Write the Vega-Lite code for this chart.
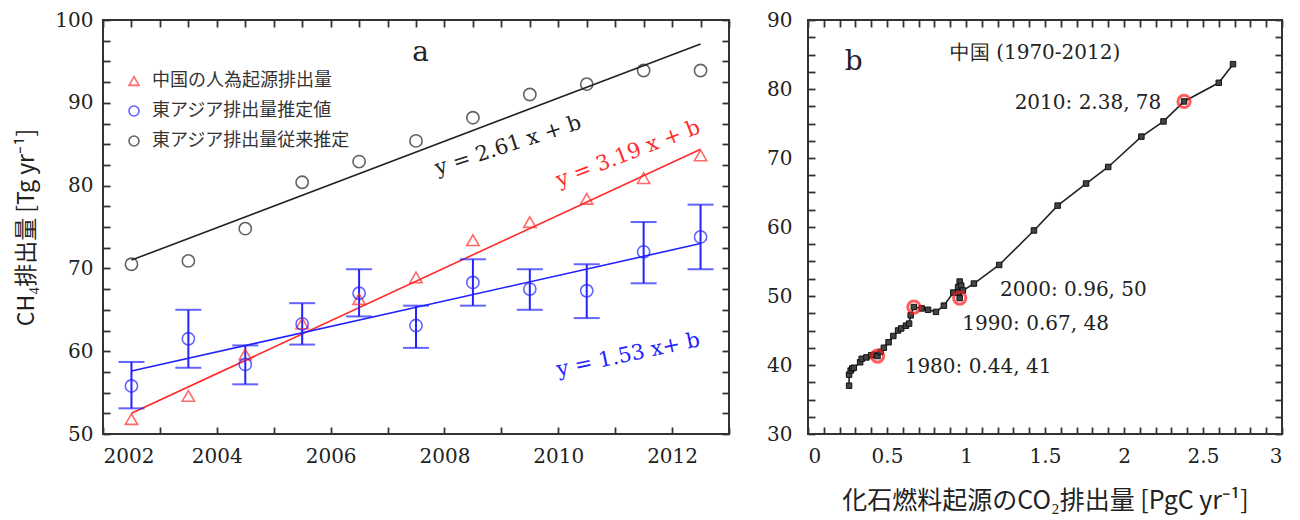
{
  "$schema": "https://vega.github.io/schema/vega-lite/v6.json",
  "background": "white",
  "padding": {"left": 14, "top": 9, "right": 10, "bottom": 10},
  "bounds": "flush",
  "spacing": 79,
  "config": {
    "view": {"stroke": "#333", "strokeWidth": 2},
    "axis": {"domain": false, "grid": false, "labelFont": "DejaVu Serif", "labelFontSize": 20, "labelColor": "#222", "titleFont": "Noto Sans CJK JP", "titleFontSize": 23, "titleFontWeight": "normal", "titleColor": "#222"},
    "legend": {"labelFont": "Noto Sans CJK JP", "labelFontSize": 18, "labelColor": "#333", "labelLimit": 400, "rowPadding": 12, "padding": 0, "labelOffset": 9, "symbolStrokeWidth": 1.6}
  },
  "datasets": {
    "a_obs": [
      {"year": 2002.5, "series": "中国の人為起源排出量", "value": 51.8},
      {"year": 2003.5, "series": "中国の人為起源排出量", "value": 54.6},
      {"year": 2004.5, "series": "中国の人為起源排出量", "value": 59.6},
      {"year": 2005.5, "series": "中国の人為起源排出量", "value": 63.35},
      {"year": 2006.5, "series": "中国の人為起源排出量", "value": 66.3},
      {"year": 2007.5, "series": "中国の人為起源排出量", "value": 68.9},
      {"year": 2008.5, "series": "中国の人為起源排出量", "value": 73.4},
      {"year": 2009.5, "series": "中国の人為起源排出量", "value": 75.6},
      {"year": 2010.5, "series": "中国の人為起源排出量", "value": 78.4},
      {"year": 2011.5, "series": "中国の人為起源排出量", "value": 80.9},
      {"year": 2012.5, "series": "中国の人為起源排出量", "value": 83.65},
      {"year": 2002.5, "series": "東アジア排出量推定値", "value": 55.8, "lo": 53.1, "hi": 58.7},
      {"year": 2003.5, "series": "東アジア排出量推定値", "value": 61.5, "lo": 58.0, "hi": 65.0},
      {"year": 2004.5, "series": "東アジア排出量推定値", "value": 58.4, "lo": 56.0, "hi": 60.7},
      {"year": 2005.5, "series": "東アジア排出量推定値", "value": 63.3, "lo": 60.8, "hi": 65.8},
      {"year": 2006.5, "series": "東アジア排出量推定値", "value": 67.0, "lo": 64.2, "hi": 69.9},
      {"year": 2007.5, "series": "東アジア排出量推定値", "value": 63.1, "lo": 60.4, "hi": 65.5},
      {"year": 2008.5, "series": "東アジア排出量推定値", "value": 68.3, "lo": 65.5, "hi": 71.1},
      {"year": 2009.5, "series": "東アジア排出量推定値", "value": 67.5, "lo": 65.0, "hi": 69.9},
      {"year": 2010.5, "series": "東アジア排出量推定値", "value": 67.3, "lo": 64.0, "hi": 70.5},
      {"year": 2011.5, "series": "東アジア排出量推定値", "value": 72.0, "lo": 68.2, "hi": 75.6},
      {"year": 2012.5, "series": "東アジア排出量推定値", "value": 73.8, "lo": 69.9, "hi": 77.7},
      {"year": 2002.5, "series": "東アジア排出量従来推定", "value": 70.5},
      {"year": 2003.5, "series": "東アジア排出量従来推定", "value": 70.9},
      {"year": 2004.5, "series": "東アジア排出量従来推定", "value": 74.8},
      {"year": 2005.5, "series": "東アジア排出量従来推定", "value": 80.4},
      {"year": 2006.5, "series": "東アジア排出量従来推定", "value": 82.9},
      {"year": 2007.5, "series": "東アジア排出量従来推定", "value": 85.4},
      {"year": 2008.5, "series": "東アジア排出量従来推定", "value": 88.2},
      {"year": 2009.5, "series": "東アジア排出量従来推定", "value": 91.0},
      {"year": 2010.5, "series": "東アジア排出量従来推定", "value": 92.25},
      {"year": 2011.5, "series": "東アジア排出量従来推定", "value": 93.9},
      {"year": 2012.5, "series": "東アジア排出量従来推定", "value": 93.9}
    ],
    "a_fit": [
      {"series": "black", "year": 2002.5, "value": 71.0},
      {"series": "black", "year": 2012.5, "value": 97.1},
      {"series": "red", "year": 2002.5, "value": 52.5},
      {"series": "red", "year": 2012.5, "value": 84.4},
      {"series": "blue", "year": 2002.5, "value": 57.6},
      {"series": "blue", "year": 2012.5, "value": 73.0}
    ],
    "b": [
      {"year": 1970, "co2": 0.26, "ch4": 37.0},
      {"year": 1971, "co2": 0.26, "ch4": 38.6},
      {"year": 1972, "co2": 0.27, "ch4": 39.2},
      {"year": 1973, "co2": 0.28, "ch4": 39.5},
      {"year": 1974, "co2": 0.29, "ch4": 39.6},
      {"year": 1975, "co2": 0.33, "ch4": 40.4},
      {"year": 1976, "co2": 0.34, "ch4": 40.9},
      {"year": 1977, "co2": 0.37, "ch4": 41.1},
      {"year": 1978, "co2": 0.40, "ch4": 41.4},
      {"year": 1979, "co2": 0.42, "ch4": 41.5},
      {"year": 1980, "co2": 0.44, "ch4": 41.3},
      {"year": 1981, "co2": 0.46, "ch4": 41.9},
      {"year": 1982, "co2": 0.48, "ch4": 42.5},
      {"year": 1983, "co2": 0.51, "ch4": 43.3},
      {"year": 1984, "co2": 0.54, "ch4": 44.2},
      {"year": 1985, "co2": 0.57, "ch4": 45.0},
      {"year": 1986, "co2": 0.59, "ch4": 45.3},
      {"year": 1987, "co2": 0.62, "ch4": 45.7},
      {"year": 1988, "co2": 0.64, "ch4": 46.0},
      {"year": 1989, "co2": 0.65, "ch4": 47.2},
      {"year": 1990, "co2": 0.67, "ch4": 48.4},
      {"year": 1991, "co2": 0.72, "ch4": 48.2},
      {"year": 1992, "co2": 0.76, "ch4": 48.0},
      {"year": 1993, "co2": 0.81, "ch4": 47.7},
      {"year": 1994, "co2": 0.86, "ch4": 48.6},
      {"year": 1995, "co2": 0.92, "ch4": 50.5},
      {"year": 1996, "co2": 0.95, "ch4": 51.3},
      {"year": 1997, "co2": 0.96, "ch4": 52.1},
      {"year": 1998, "co2": 0.97, "ch4": 51.5},
      {"year": 1999, "co2": 0.95, "ch4": 50.5},
      {"year": 2000, "co2": 0.96, "ch4": 49.7},
      {"year": 2001, "co2": 0.98, "ch4": 50.8},
      {"year": 2002, "co2": 1.05, "ch4": 51.8},
      {"year": 2003, "co2": 1.21, "ch4": 54.5},
      {"year": 2004, "co2": 1.43, "ch4": 59.5},
      {"year": 2005, "co2": 1.58, "ch4": 63.1},
      {"year": 2006, "co2": 1.76, "ch4": 66.3},
      {"year": 2007, "co2": 1.90, "ch4": 68.7},
      {"year": 2008, "co2": 2.11, "ch4": 73.1},
      {"year": 2009, "co2": 2.25, "ch4": 75.3},
      {"year": 2010, "co2": 2.38, "ch4": 78.2},
      {"year": 2011, "co2": 2.60, "ch4": 80.9},
      {"year": 2012, "co2": 2.69, "ch4": 83.6}
    ]
  },
  "hconcat": [
    {
      "width": 626,
      "height": 414,
      "view": {"stroke": "#333", "strokeWidth": 2},
      "resolve": {"axis": {"x": "independent", "y": "independent"}},
      "layer": [
        {
          "data": {"name": "a_fit"},
          "transform": [{"filter": "datum.series === 'black'"}],
          "mark": {"type": "line", "color": "#222", "strokeWidth": 1.6},
          "encoding": {
            "x": {"field": "year", "type": "quantitative", "scale": {"domain": [2002, 2013], "nice": false, "zero": false},
              "axis": {"orient": "bottom", "title": null, "format": "d", "zindex": 1,
                "ticks": true, "tickSize": -7, "tickColor": "#333", "tickWidth": 1.8,
                "values": [2002, 2002.5, 2003, 2003.5, 2004, 2004.5, 2005, 2005.5, 2006, 2006.5, 2007, 2007.5, 2008, 2008.5, 2009, 2009.5, 2010, 2010.5, 2011, 2011.5, 2012, 2012.5, 2013],
                "labelExpr": "datum.value % 2 === 0 ? datum.label : ''",
                "labelPadding": 19}},
            "y": {"field": "value", "type": "quantitative", "scale": {"domain": [50, 100], "nice": false, "zero": false},
              "axis": {"orient": "left", "title": "CH₄排出量 [Tg yr⁻¹]", "titlePadding": 16, "zindex": 1,
                "ticks": true, "tickSize": -7, "tickColor": "#333", "tickWidth": 1.8,
                "values": [50, 52.5, 55, 57.5, 60, 62.5, 65, 67.5, 70, 72.5, 75, 77.5, 80, 82.5, 85, 87.5, 90, 92.5, 95, 97.5, 100],
                "labelExpr": "datum.value % 10 === 0 ? datum.label : ''",
                "labelPadding": 17}}
          }
        },
        {
          "data": {"name": "a_fit"},
          "transform": [{"filter": "datum.series === 'red'"}],
          "mark": {"type": "line", "color": "#ff2a2a", "strokeWidth": 1.6},
          "encoding": {
            "x": {"field": "year", "type": "quantitative", "scale": {"domain": [2002, 2013], "nice": false, "zero": false},
              "axis": {"orient": "top", "title": null, "labels": false, "zindex": 1,
                "ticks": true, "tickSize": -7, "tickColor": "#333", "tickWidth": 1.8,
                "values": [2002, 2002.5, 2003, 2003.5, 2004, 2004.5, 2005, 2005.5, 2006, 2006.5, 2007, 2007.5, 2008, 2008.5, 2009, 2009.5, 2010, 2010.5, 2011, 2011.5, 2012, 2012.5, 2013]}},
            "y": {"field": "value", "type": "quantitative", "scale": {"domain": [50, 100], "nice": false, "zero": false},
              "axis": {"orient": "right", "title": null, "labels": false, "zindex": 1,
                "ticks": true, "tickSize": -7, "tickColor": "#333", "tickWidth": 1.8,
                "values": [50, 52.5, 55, 57.5, 60, 62.5, 65, 67.5, 70, 72.5, 75, 77.5, 80, 82.5, 85, 87.5, 90, 92.5, 95, 97.5, 100]}}
          }
        },
        {
          "data": {"name": "a_fit"},
          "transform": [{"filter": "datum.series === 'blue'"}],
          "mark": {"type": "line", "color": "#2222ff", "strokeWidth": 1.6},
          "encoding": {
            "x": {"field": "year", "type": "quantitative", "scale": {"domain": [2002, 2013], "nice": false, "zero": false}, "axis": null},
            "y": {"field": "value", "type": "quantitative", "scale": {"domain": [50, 100], "nice": false, "zero": false}, "axis": null}
          }
        },
        {
          "data": {"name": "a_obs"},
          "transform": [{"filter": "datum.lo != null"}],
          "mark": {"type": "rule", "color": "#2222ff", "strokeWidth": 2},
          "encoding": {
            "x": {"field": "year", "type": "quantitative", "scale": {"domain": [2002, 2013], "nice": false, "zero": false}, "axis": null},
            "y": {"field": "lo", "type": "quantitative", "scale": {"domain": [50, 100], "nice": false, "zero": false}, "axis": null},
            "y2": {"field": "hi"}
          }
        },
        {
          "data": {"name": "a_obs"},
          "transform": [{"filter": "datum.lo != null"}],
          "mark": {"type": "tick", "orient": "horizontal", "color": "#2222ff", "thickness": 2, "size": 26},
          "encoding": {
            "x": {"field": "year", "type": "quantitative", "scale": {"domain": [2002, 2013], "nice": false, "zero": false}, "axis": null},
            "y": {"field": "lo", "type": "quantitative", "scale": {"domain": [50, 100], "nice": false, "zero": false}, "axis": null}
          }
        },
        {
          "data": {"name": "a_obs"},
          "transform": [{"filter": "datum.lo != null"}],
          "mark": {"type": "tick", "orient": "horizontal", "color": "#2222ff", "thickness": 2, "size": 26},
          "encoding": {
            "x": {"field": "year", "type": "quantitative", "scale": {"domain": [2002, 2013], "nice": false, "zero": false}, "axis": null},
            "y": {"field": "hi", "type": "quantitative", "scale": {"domain": [50, 100], "nice": false, "zero": false}, "axis": null}
          }
        },
        {
          "data": {"name": "a_obs"},
          "mark": {"type": "point", "filled": false, "strokeWidth": 1.6, "size": 150},
          "encoding": {
            "x": {"field": "year", "type": "quantitative", "scale": {"domain": [2002, 2013], "nice": false, "zero": false}, "axis": null},
            "y": {"field": "value", "type": "quantitative", "scale": {"domain": [50, 100], "nice": false, "zero": false}, "axis": null},
            "color": {"field": "series", "type": "nominal",
              "scale": {"domain": ["中国の人為起源排出量", "東アジア排出量推定値", "東アジア排出量従来推定"], "range": ["#ff2a2a", "#2222ff", "#222222"]},
              "legend": {"orient": "none", "legendX": 22, "legendY": 52, "title": null}},
            "shape": {"field": "series", "type": "nominal",
              "scale": {"domain": ["中国の人為起源排出量", "東アジア排出量推定値", "東アジア排出量従来推定"], "range": ["triangle-up", "circle", "circle"]},
              "legend": {"orient": "none", "legendX": 22, "legendY": 52, "title": null}}
          }
        },
        {
          "data": {"values": [{}]},
          "mark": {"type": "text", "font": "DejaVu Serif", "fontSize": 28, "color": "#222"},
          "encoding": {
            "x": {"datum": 2007.58, "type": "quantitative", "scale": {"domain": [2002, 2013], "nice": false, "zero": false}, "axis": null},
            "y": {"datum": 96.05, "type": "quantitative", "scale": {"domain": [50, 100], "nice": false, "zero": false}, "axis": null},
            "text": {"value": "a"}
          }
        },
        {
          "data": {"values": [{}]},
          "mark": {"type": "text", "font": "DejaVu Serif", "fontSize": 21, "color": "#222", "angle": 342},
          "encoding": {
            "x": {"datum": 2009.12, "type": "quantitative", "scale": {"domain": [2002, 2013], "nice": false, "zero": false}, "axis": null},
            "y": {"datum": 84.8, "type": "quantitative", "scale": {"domain": [50, 100], "nice": false, "zero": false}, "axis": null},
            "text": {"value": "y = 2.61 x + b"}
          }
        },
        {
          "data": {"values": [{}]},
          "mark": {"type": "text", "font": "DejaVu Serif", "fontSize": 21, "color": "#ff2a2a", "angle": 339},
          "encoding": {
            "x": {"datum": 2011.23, "type": "quantitative", "scale": {"domain": [2002, 2013], "nice": false, "zero": false}, "axis": null},
            "y": {"datum": 83.8, "type": "quantitative", "scale": {"domain": [50, 100], "nice": false, "zero": false}, "axis": null},
            "text": {"value": "y = 3.19 x + b"}
          }
        },
        {
          "data": {"values": [{}]},
          "mark": {"type": "text", "font": "DejaVu Serif", "fontSize": 21, "color": "#2222ff", "angle": 348},
          "encoding": {
            "x": {"datum": 2011.23, "type": "quantitative", "scale": {"domain": [2002, 2013], "nice": false, "zero": false}, "axis": null},
            "y": {"datum": 59.5, "type": "quantitative", "scale": {"domain": [50, 100], "nice": false, "zero": false}, "axis": null},
            "text": {"value": "y = 1.53 x+ b"}
          }
        }
      ]
    },
    {
      "width": 474,
      "height": 414,
      "view": {"stroke": "#333", "strokeWidth": 2},
      "resolve": {"axis": {"x": "independent", "y": "independent"}},
      "layer": [
        {
          "data": {"name": "b"},
          "mark": {"type": "line", "color": "#222", "strokeWidth": 1.6},
          "encoding": {
            "x": {"field": "co2", "type": "quantitative", "scale": {"domain": [0, 3], "nice": false, "zero": false},
              "axis": {"orient": "bottom", "title": "化石燃料起源のCO₂排出量 [PgC yr⁻¹]", "titlePadding": 22, "titleFontSize": 25, "format": "~g", "zindex": 1,
                "ticks": true, "tickSize": -7, "tickColor": "#333", "tickWidth": 1.8,
                "values": [0, 0.1, 0.2, 0.3, 0.4, 0.5, 0.6, 0.7, 0.8, 0.9, 1, 1.1, 1.2, 1.3, 1.4, 1.5, 1.6, 1.7, 1.8, 1.9, 2, 2.1, 2.2, 2.3, 2.4, 2.5, 2.6, 2.7, 2.8, 2.9, 3],
                "labelExpr": "(datum.value * 2) % 1 === 0 ? datum.label : ''",
                "labelPadding": 19}},
            "y": {"field": "ch4", "type": "quantitative", "scale": {"domain": [30, 90], "nice": false, "zero": false},
              "axis": {"orient": "left", "title": null, "zindex": 1,
                "ticks": true, "tickSize": -7, "tickColor": "#333", "tickWidth": 1.8,
                "values": [30, 32.5, 35, 37.5, 40, 42.5, 45, 47.5, 50, 52.5, 55, 57.5, 60, 62.5, 65, 67.5, 70, 72.5, 75, 77.5, 80, 82.5, 85, 87.5, 90],
                "labelExpr": "datum.value % 10 === 0 ? datum.label : ''",
                "labelPadding": 23}},
            "order": {"field": "year", "type": "quantitative"}
          }
        },
        {
          "data": {"name": "b"},
          "mark": {"type": "point", "shape": "square", "filled": true, "size": 30, "color": "#444", "stroke": "#111", "strokeWidth": 1, "opacity": 1},
          "encoding": {
            "x": {"field": "co2", "type": "quantitative", "scale": {"domain": [0, 3], "nice": false, "zero": false},
              "axis": {"orient": "top", "title": null, "labels": false, "zindex": 1,
                "ticks": true, "tickSize": -7, "tickColor": "#333", "tickWidth": 1.8,
                "values": [0, 0.1, 0.2, 0.3, 0.4, 0.5, 0.6, 0.7, 0.8, 0.9, 1, 1.1, 1.2, 1.3, 1.4, 1.5, 1.6, 1.7, 1.8, 1.9, 2, 2.1, 2.2, 2.3, 2.4, 2.5, 2.6, 2.7, 2.8, 2.9, 3]}},
            "y": {"field": "ch4", "type": "quantitative", "scale": {"domain": [30, 90], "nice": false, "zero": false},
              "axis": {"orient": "right", "title": null, "labels": false, "zindex": 1,
                "ticks": true, "tickSize": -7, "tickColor": "#333", "tickWidth": 1.8,
                "values": [30, 32.5, 35, 37.5, 40, 42.5, 45, 47.5, 50, 52.5, 55, 57.5, 60, 62.5, 65, 67.5, 70, 72.5, 75, 77.5, 80, 82.5, 85, 87.5, 90]}}
          }
        },
        {
          "data": {"name": "b"},
          "transform": [{"filter": {"field": "year", "oneOf": [1980, 1990, 2000, 2010]}}],
          "mark": {"type": "point", "filled": false, "size": 150, "color": "#ff1a1a", "strokeWidth": 3},
          "encoding": {
            "x": {"field": "co2", "type": "quantitative", "scale": {"domain": [0, 3], "nice": false, "zero": false}, "axis": null},
            "y": {"field": "ch4", "type": "quantitative", "scale": {"domain": [30, 90], "nice": false, "zero": false}, "axis": null}
          }
        },
        {
          "data": {"values": [{}]},
          "mark": {"type": "text", "font": "DejaVu Serif", "fontSize": 28, "color": "#222"},
          "encoding": {
            "x": {"datum": 0.29, "type": "quantitative", "scale": {"domain": [0, 3], "nice": false, "zero": false}, "axis": null},
            "y": {"datum": 83.9, "type": "quantitative", "scale": {"domain": [30, 90], "nice": false, "zero": false}, "axis": null},
            "text": {"value": "b"}
          }
        },
        {
          "data": {"values": [{}]},
          "mark": {"type": "text", "font": "DejaVu Serif", "fontSize": 20, "color": "#222"},
          "encoding": {
            "x": {"datum": 1.437, "type": "quantitative", "scale": {"domain": [0, 3], "nice": false, "zero": false}, "axis": null},
            "y": {"datum": 85.2, "type": "quantitative", "scale": {"domain": [30, 90], "nice": false, "zero": false}, "axis": null},
            "text": {"value": "中国 (1970-2012)"}
          }
        },
        {
          "data": {"values": [{}]},
          "mark": {"type": "text", "font": "DejaVu Serif", "fontSize": 20, "color": "#222"},
          "encoding": {
            "x": {"datum": 1.772, "type": "quantitative", "scale": {"domain": [0, 3], "nice": false, "zero": false}, "axis": null},
            "y": {"datum": 78.0, "type": "quantitative", "scale": {"domain": [30, 90], "nice": false, "zero": false}, "axis": null},
            "text": {"value": "2010: 2.38, 78"}
          }
        },
        {
          "data": {"values": [{}]},
          "mark": {"type": "text", "font": "DejaVu Serif", "fontSize": 20, "color": "#222"},
          "encoding": {
            "x": {"datum": 1.68, "type": "quantitative", "scale": {"domain": [0, 3], "nice": false, "zero": false}, "axis": null},
            "y": {"datum": 50.8, "type": "quantitative", "scale": {"domain": [30, 90], "nice": false, "zero": false}, "axis": null},
            "text": {"value": "2000: 0.96, 50"}
          }
        },
        {
          "data": {"values": [{}]},
          "mark": {"type": "text", "font": "DejaVu Serif", "fontSize": 20, "color": "#222"},
          "encoding": {
            "x": {"datum": 1.44, "type": "quantitative", "scale": {"domain": [0, 3], "nice": false, "zero": false}, "axis": null},
            "y": {"datum": 46.0, "type": "quantitative", "scale": {"domain": [30, 90], "nice": false, "zero": false}, "axis": null},
            "text": {"value": "1990: 0.67, 48"}
          }
        },
        {
          "data": {"values": [{}]},
          "mark": {"type": "text", "font": "DejaVu Serif", "fontSize": 20, "color": "#222"},
          "encoding": {
            "x": {"datum": 1.076, "type": "quantitative", "scale": {"domain": [0, 3], "nice": false, "zero": false}, "axis": null},
            "y": {"datum": 39.7, "type": "quantitative", "scale": {"domain": [30, 90], "nice": false, "zero": false}, "axis": null},
            "text": {"value": "1980: 0.44, 41"}
          }
        }
      ]
    }
  ]
}
